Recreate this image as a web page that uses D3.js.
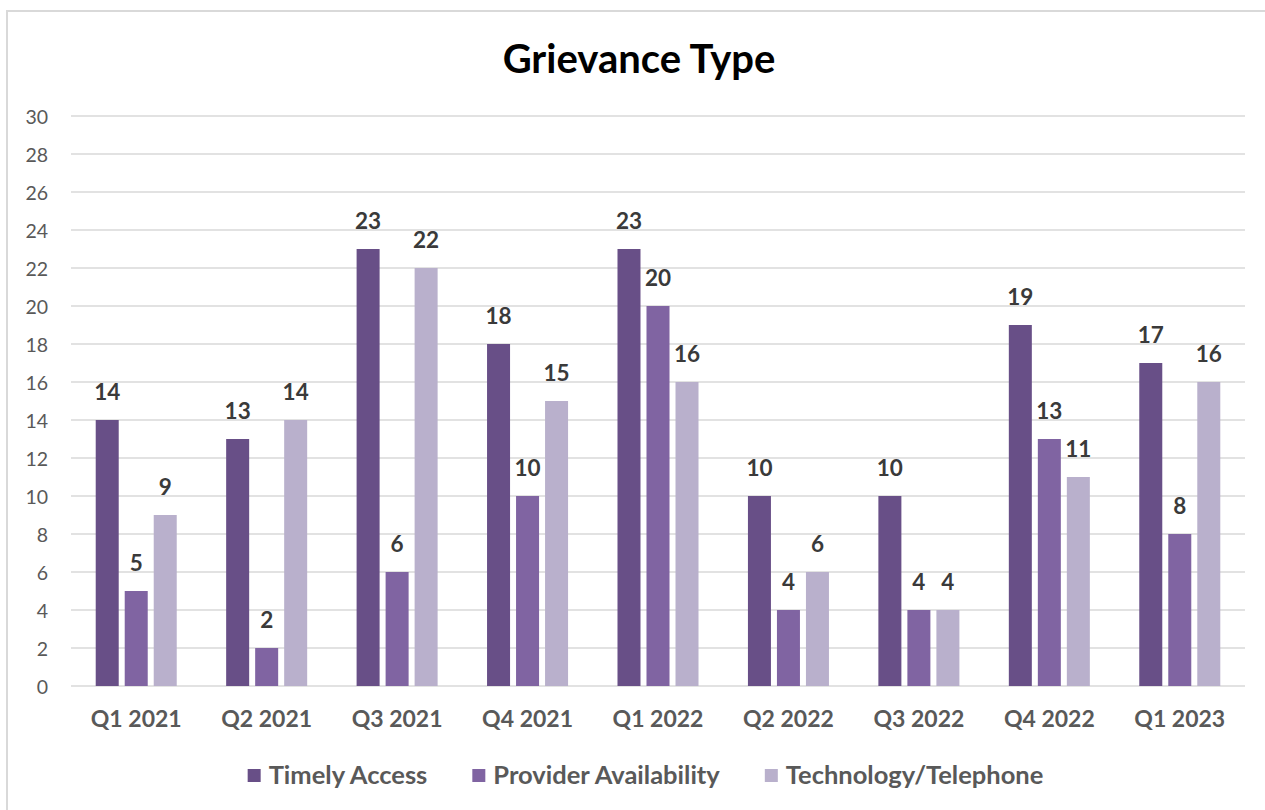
<!DOCTYPE html>
<html>
<head>
<meta charset="utf-8">
<script src="https://cdn.jsdelivr.net/npm/d3@7"></script>
<style>
  html, body { margin: 0; padding: 0; background: #fff; }
  svg { display: block; font-family: Lato, "Open Sans", sans-serif; }
</style>
</head>
<body>
<svg id="chart" width="1265" height="810"></svg>
<script>
const title = "Grievance Type";
const categories = ["Q1 2021", "Q2 2021", "Q3 2021", "Q4 2021", "Q1 2022", "Q2 2022", "Q3 2022", "Q4 2022", "Q1 2023"];
const seriesNames = ["Timely Access", "Provider Availability", "Technology/Telephone"];
const timelyAccess = [14, 13, 23, 18, 23, 10, 10, 19, 17];
const providerAvailability = [5, 2, 6, 10, 20, 4, 4, 13, 8];
const technologyTelephone = [9, 14, 22, 15, 16, 6, 4, 11, 16];
const yTicks = [0, 2, 4, 6, 8, 10, 12, 14, 16, 18, 20, 22, 24, 26, 28, 30];
const colors = ["#684f87", "#8064a2", "#b9b0cc"];

const seriesValues = [timelyAccess, providerAvailability, technologyTelephone];

const svg = d3.select("#chart");
const W = 1265, H = 810;
const plot = { left: 71, right: 1245, top: 116, bottom: 686 };

// chart frame (top and left edges visible)
svg.append("rect").attr("x", 0).attr("y", 0).attr("width", W).attr("height", H).attr("fill", "#fff");
svg.append("line").attr("x1", 7).attr("x2", W).attr("y1", 11).attr("y2", 11)
  .attr("stroke", "#d9d9d9").attr("stroke-width", 2);
svg.append("line").attr("x1", 7).attr("x2", 7).attr("y1", 10).attr("y2", H)
  .attr("stroke", "#d9d9d9").attr("stroke-width", 2);

const x0 = d3.scaleBand().domain(categories).range([plot.left, plot.right]).padding(0);
const x1 = d3.scaleBand().domain(seriesNames).range([0, x0.bandwidth()])
  .paddingInner(6 / 29).paddingOuter(0.852);
const y = d3.scaleLinear().domain([0, 30]).range([plot.bottom, plot.top]);

// gridlines
svg.append("g").selectAll("line").data(yTicks).join("line")
  .attr("x1", plot.left).attr("x2", plot.right)
  .attr("y1", d => y(d)).attr("y2", d => y(d))
  .attr("stroke", "#d9d9d9").attr("stroke-width", 1.5);

// y axis
const yAxis = d3.axisLeft(y).tickValues(yTicks).tickSize(0).tickPadding(0);
const yg = svg.append("g").attr("transform", `translate(48,0)`).call(yAxis);
yg.select(".domain").remove();
yg.selectAll("text").attr("font-size", 19.5).attr("fill", "#595959")
  .attr("font-family", "Lato").attr("dy", "0.36em");

// x axis
const xAxis = d3.axisBottom(x0).tickSize(0).tickPadding(0);
const xg = svg.append("g").attr("transform", `translate(0,727)`).call(xAxis);
xg.select(".domain").remove();
xg.selectAll("text").attr("font-size", 23).attr("font-weight", "bold")
  .attr("fill", "#595959").attr("font-family", "Lato").attr("dy", 0);

// bars
const data = [];
categories.forEach((c, i) => {
  seriesNames.forEach((s, j) => data.push({ cat: c, series: s, value: seriesValues[j][i], j }));
});

svg.append("g").selectAll("rect").data(data).join("rect")
  .attr("x", d => x0(d.cat) + x1(d.series))
  .attr("y", d => y(d.value))
  .attr("width", x1.bandwidth())
  .attr("height", d => y(0) - y(d.value))
  .attr("fill", d => colors[d.j]);

// data labels
svg.append("g").selectAll("text").data(data).join("text")
  .attr("x", d => x0(d.cat) + x1(d.series) + x1.bandwidth() / 2)
  .attr("y", d => y(d.value) - 20)
  .attr("text-anchor", "middle")
  .attr("font-size", 22.5).attr("font-weight", "bold").attr("fill", "#3a3a3a")
  .text(d => d.value);

// title
svg.append("text").attr("x", 639).attr("y", 73).attr("text-anchor", "middle")
  .attr("font-size", 40).attr("font-weight", "bold").attr("fill", "#000")
  .text(title);

// legend
const lg = svg.append("g");
const items = lg.selectAll("g").data(seriesNames).join("g");
items.append("rect").attr("width", 13).attr("height", 13).attr("y", 769)
  .attr("fill", (d, i) => colors[i]);
items.append("text").attr("x", 21).attr("y", 784)
  .attr("font-size", 25.5).attr("font-weight", "bold").attr("fill", "#595959")
  .text(d => d);
const widths = [];
items.select("text").each(function () { widths.push(21 + this.getComputedTextLength()); });
const gap = 45;
const total = d3.sum(widths) + gap * (widths.length - 1);
let cx = 645.5 - total / 2;
items.each(function (d, i) {
  d3.select(this).attr("transform", `translate(${cx},0)`);
  cx += widths[i] + gap;
});
</script>
</body>
</html>
